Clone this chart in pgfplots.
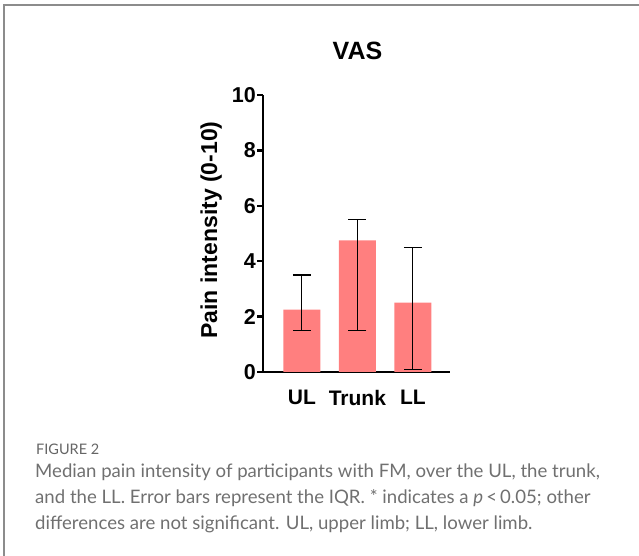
\documentclass[border=0pt]{standalone}
\usepackage{pgfplots}
\pgfplotsset{compat=1.18}
\usepackage{fontspec}
\setmainfont{Liberation Sans}
\newfontfamily\capfont{Lato}
\definecolor{barpink}{HTML}{FF7F7F}
\definecolor{framegray}{HTML}{8C8C8C}
\definecolor{capgray}{HTML}{707070}
\begin{document}
\begin{tikzpicture}[x=1pt,y=1pt]
\useasboundingbox (0,0) rectangle (639,556);
\draw[framegray, line width=1.5pt] (4,0) -- (4,551) -- (639,551);
\begin{axis}[
  at={(263pt,184pt)}, anchor=south west,
  scale only axis, width=187pt, height=277pt,
  xmin=-0.7, xmax=2.67, ymin=0, ymax=10,
  axis x line*=bottom, axis y line*=left,
  axis line style={line width=2.6pt, black},
  ytick={0,2,4,6,8,10}, xtick={0,1,2}, xticklabels={UL,Trunk,LL},
  minor tick num=0,
  tick align=outside, major tick length=6pt,
  tick style={line width=2.4pt, black},
  x tick style={draw=none},
  /pgf/number format/assume math mode=true,
  yticklabel style={font=\bfseries\fontsize{21.5}{22}\selectfont, inner sep=1pt},
  xticklabel style={font=\bfseries\fontsize{21}{21}\selectfont, yshift=-9pt},
  ybar, bar width=37pt,
  clip=false,
]
\addplot[fill=barpink, draw=none,
  error bars/.cd, y dir=both, y explicit,
  error bar style={line width=1.3pt, black},
  error mark options={rotate=90, mark size=9pt, line width=1.3pt, black}]
  coordinates {
    (0,2.25) -= (0,0.75) += (0,1.25)
    (1,4.75) -= (0,3.25) += (0,0.75)
    (2,2.5)  -= (0,2.4)  += (0,2.0)
  };
\end{axis}
\node[anchor=base, font=\bfseries\fontsize{25}{25}\selectfont] at (357.5,496) {VAS};
\node[anchor=base, rotate=90, inner sep=0pt] at (217,326) {\fontsize{23}{23}\selectfont\bfseries Pain intensity (0-10)};
\node[anchor=base west, inner sep=0pt, font=\capfont\fontsize{14.5}{15}\selectfont, text=capgray!90!black] at (36,101) {FIGURE 2};
\node[anchor=base west, inner sep=0pt, font=\capfont\fontsize{18.6}{19}\selectfont, text=capgray] at (35,78) {Median pain intensity of participants with FM, over the UL, the trunk,};
\node[anchor=base west, inner sep=0pt, font=\capfont\fontsize{18.6}{19}\selectfont, text=capgray] at (35,52) {and the LL. Error bars represent the IQR. * indicates a \textit{p}\,<\,0.05; other};
\node[anchor=base west, inner sep=0pt, font=\capfont\fontsize{18.6}{19}\selectfont, text=capgray] at (35,26) {differences are not significant. UL, upper limb; LL, lower limb.};
\end{tikzpicture}
\end{document}
